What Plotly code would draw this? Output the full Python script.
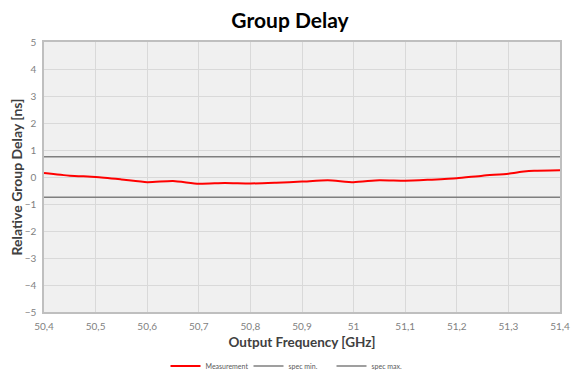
import plotly.graph_objects as go

freq = [50.40, 50.45, 50.50, 50.55, 50.60, 50.65, 50.70, 50.75, 50.80, 50.85, 50.90,
        50.95, 51.00, 51.05, 51.10, 51.15, 51.20, 51.25, 51.30, 51.33, 51.35, 51.40]
delay = [0.15, 0.05, 0.00, -0.09, -0.19, -0.15, -0.25, -0.22, -0.24, -0.21, -0.17,
         -0.12, -0.19, -0.12, -0.14, -0.10, -0.05, 0.05, 0.12, 0.20, 0.23, 0.25]
spec_min = -0.75
spec_max = 0.75
x_ticks = [50.4, 50.5, 50.6, 50.7, 50.8, 50.9, 51.0, 51.1, 51.2, 51.3, 51.4]
x_labels = ["50,4", "50,5", "50,6", "50,7", "50,8", "50,9", "51", "51,1", "51,2", "51,3", "51,4"]
y_ticks = [-5, -4, -3, -2, -1, 0, 1, 2, 3, 4, 5]

fig = go.Figure()
fig.add_trace(go.Scatter(x=freq, y=delay, mode="lines", name="Measurement",
                         line=dict(color="#ff0000", width=2, shape="spline", smoothing=0.6)))
fig.add_trace(go.Scatter(x=[freq[0], freq[-1]], y=[spec_min, spec_min], mode="lines",
                         name="spec min.", line=dict(color="#7f7f7f", width=1.5)))
fig.add_trace(go.Scatter(x=[freq[0], freq[-1]], y=[spec_max, spec_max], mode="lines",
                         name="spec max.", line=dict(color="#7f7f7f", width=1.5)))

fig.update_layout(
    width=585, height=384,
    margin=dict(l=36, r=33, t=34, b=80, autoexpand=False),
    paper_bgcolor="white",
    plot_bgcolor="#f0f0f0",
    font=dict(family="Lato, sans-serif", color="#595959"),
    title=dict(text="<b>Group Delay</b>", x=(290 - 8) / 585, xanchor="center", y=1 - 13 / 384, yanchor="middle",
               font=dict(size=21, color="#000000")),
    showlegend=True,
    legend=dict(orientation="h", x=(290 - 8 - 36) / 516, xanchor="center", y=-54 / 270, yanchor="middle",
                font=dict(size=7, color="#595959"), itemwidth=30, tracegroupgap=0,
                entrywidthmode="pixels", entrywidth=38),
)
fig.update_xaxes(
    range=[50.4, 51.4], tickvals=x_ticks, ticktext=x_labels, automargin=False,
    showgrid=True, gridcolor="#d9d9d9", gridwidth=1,
    showline=True, linecolor="#bfbfbf", linewidth=1.5, mirror=True,
    zeroline=False, ticks="", tickfont=dict(size=10, color="#7f7f7f"), ticklabelstandoff=4,
    title=dict(text="<b>Output Frequency [GHz]</b>", font=dict(size=13.5, color="#404040"), standoff=7),
)
fig.update_yaxes(
    range=[-5, 5], tickvals=y_ticks, automargin=False,
    showgrid=True, gridcolor="#d9d9d9", gridwidth=1,
    showline=True, linecolor="#bfbfbf", linewidth=1.5, mirror=True,
    zeroline=False, ticks="", tickfont=dict(size=10, color="#7f7f7f"), ticklabelstandoff=4,
    title=dict(text="<b>Relative Group Delay [ns]</b>", font=dict(size=14, color="#404040"), standoff=3),
)

fig.write_html("out.html")
